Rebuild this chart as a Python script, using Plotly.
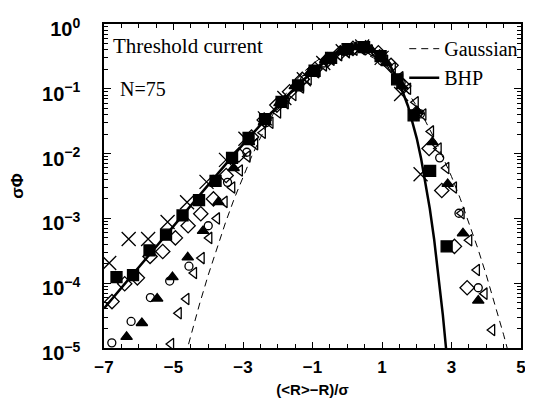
import plotly.graph_objects as go

# ---- theory curves ----
bhp_x = [-7, -6.5, -6, -5.5, -5, -4.5, -4, -3.5, -3, -2.5, -2, -1.5, -1, -0.5, 0, 0.25, 0.374,
         0.5, 0.75, 1, 1.25, 1.5, 1.75, 1.875, 2, 2.125, 2.25, 2.375, 2.5, 2.625, 2.75, 2.85, 3.0]
bhp_y = [4.08e-5, 8.52e-5, 1.778e-4, 3.706e-4, 7.716e-4, 1.601e-3, 3.314e-3, 6.818e-3, 1.389e-2,
         2.787e-2, 5.466e-2, 0.1032, 0.1833, 0.2955, 0.4080, 0.4403, 0.4449, 0.4398, 0.3984, 0.3191,
         0.2185, 0.1229, 0.05379, 0.0318, 0.01719, 8.42e-3, 3.686e-3, 1.424e-3, 4.773e-4, 1.367e-4,
         3.266e-5, 9.02e-6, 1.0e-6]

gauss_x = [-4.75, -4.5, -4.25, -4, -3.75, -3.5, -3.25, -3, -2.75, -2.5, -2.25, -2, -1.75, -1.5,
           -1.25, -1, -0.75, -0.5, -0.25, 0, 0.25, 0.5, 0.75, 1, 1.25, 1.5, 1.75, 2, 2.25, 2.5,
           2.75, 3, 3.25, 3.5, 3.75, 4, 4.25, 4.5, 4.75]
gauss_y = [5.03e-6, 1.60e-5, 4.77e-5, 1.34e-4, 3.53e-4, 8.73e-4, 2.03e-3, 4.43e-3, 9.09e-3, 0.0175,
           0.0317, 0.0540, 0.0863, 0.1295, 0.1826, 0.2420, 0.3011, 0.3521, 0.3867, 0.3989, 0.3867,
           0.3521, 0.3011, 0.2420, 0.1826, 0.1295, 0.0863, 0.0540, 0.0317, 0.0175, 9.09e-3, 4.43e-3,
           2.03e-3, 8.73e-4, 3.53e-4, 1.34e-4, 4.77e-5, 1.60e-5, 5.03e-6]

# ---- measured data series ----
cross_x = [-6.85, -6.29, -5.73, -5.17, -4.61, -4.05, -3.49, -2.93, -2.37, -1.81, -1.25, -0.69,
           -0.13, 0.43, 0.99, 1.55, 2.11]
cross_y = [2.05e-4, 4.8e-4, 4.8e-4, 8.8e-4, 1.77e-3, 3.66e-3, 8.0e-3, 1.7e-2, 3.5e-2, 7.2e-2,
           0.14, 0.25, 0.38, 0.45, 0.30, 0.083, 4.8e-3]

square_x = [-6.64, -6.165, -5.69, -5.215, -4.74, -4.265, -3.79, -3.315, -2.84, -2.365, -1.89,
            -1.415, -0.94, -0.465, 0.01, 0.485, 0.96, 1.435, 1.91, 2.385, 2.86]
square_y = [1.24e-4, 1.33e-4, 3.2e-4, 5.6e-4, 1.11e-3, 1.92e-3, 3.8e-3, 8.6e-3, 1.75e-2, 3.4e-2,
            6.3e-2, 0.113, 0.19, 0.30, 0.41, 0.44, 0.32, 0.14, 0.039, 5.4e-3, 3.7e-4]

diamond_x = [-6.77, -6.405, -6.04, -5.675, -5.31, -4.945, -4.58, -4.215, -3.85, -3.485, -3.12,
             -2.755, -2.39, -2.025, -1.66, -1.295, -0.93, -0.565, -0.2, 0.165, 0.53, 0.895, 1.26,
             1.625, 1.99, 2.355, 2.72, 3.085, 3.45]
diamond_y = [5.2e-5, 9.8e-5, 1.21e-4, 2.59e-4, 3.08e-4, 5.0e-4, 7.7e-4, 1.18e-3, 2.0e-3, 4.6e-3,
             9.5e-3, 1.8e-2, 3.3e-2, 5.6e-2, 9.0e-2, 0.14, 0.2, 0.28, 0.36, 0.42, 0.43, 0.36, 0.23,
             0.11, 0.042, 0.012, 2.7e-3, 3.7e-4, 8.5e-5]

circle_x = [-6.775, -6.22, -5.665, -5.11, -4.555, -4.0, -3.445, -2.89, -2.335, -1.78, -1.225,
            -0.67, -0.115, 0.44, 0.995, 1.55, 2.105, 2.66, 3.215, 3.77]
circle_y = [1.2e-5, 2.57e-5, 6.0e-5, 1.08e-4, 1.83e-4, 7.7e-4, 3.6e-3, 1.05e-2, 3.0e-2, 6.8e-2,
            0.14, 0.25, 0.38, 0.43, 0.27, 0.125, 0.041, 8.6e-3, 1.2e-3, 8.5e-5]

tri_x = [-6.35, -5.91, -5.47, -5.03, -4.59, -4.15, -3.71, -3.27, -2.83, -2.39, -1.95, -1.51,
         -1.07, -0.63, -0.19, 0.25, 0.69, 1.13, 1.57, 2.01, 2.45, 2.89, 3.33, 3.77]
tri_y = [1.49e-5, 2.43e-5, 5.8e-5, 1.24e-4, 2.5e-4, 6.4e-4, 1.78e-3, 6.0e-3, 1.5e-2, 3.1e-2,
         6.0e-2, 0.11, 0.18, 0.28, 0.38, 0.44, 0.40, 0.25, 0.11, 0.045, 0.015, 3.4e-3, 5.9e-4, 5.4e-5]

ltri_x = [-5.07, -4.85, -4.63, -4.41, -4.19, -3.97, -3.75, -3.53, -3.31, -3.09, -2.87, -2.65,
          -2.43, -2.21, -1.99, -1.77, -1.55, -1.33, -1.11, -0.89, -0.67, -0.45, -0.23, -0.01,
          0.21, 0.43, 0.65, 0.87, 1.09, 1.31, 1.53, 1.75, 1.97, 2.19, 2.41, 2.63, 2.85, 3.07,
          3.29, 3.51, 3.73, 3.95, 4.17]
ltri_y = [1.15e-5, 3.45e-5, 5.7e-5, 1.44e-4, 2.44e-4, 5.0e-4, 1.0e-3, 1.8e-3, 3.0e-3, 5.5e-3,
          9.0e-3, 1.4e-2, 2.1e-2, 3.0e-2, 4.3e-2, 6.0e-2, 8.0e-2, 0.105, 0.14, 0.18, 0.23, 0.28,
          0.33, 0.37, 0.40, 0.41, 0.39, 0.33, 0.27, 0.21, 0.15, 0.10, 0.062, 0.040, 0.022, 0.012,
          6.0e-3, 3.0e-3, 1.2e-3, 4.6e-4, 1.6e-4, 6.9e-5, 1.9e-5]

x_tickvals = [-7, -5, -3, -1, 1, 3, 5]
x_ticktext = ["\u22127", "\u22125", "\u22123", "\u22121", "1", "3", "5"]
y_tickvals = [1, 0.1, 0.01, 0.001, 1e-4, 1e-5]
y_ticktext = ["10<sup>0</sup>", "10<sup>\u22121</sup>", "10<sup>\u22122</sup>",
              "10<sup>\u22123</sup>", "10<sup>\u22124</sup>", "10<sup>\u22125</sup>"]

fig = go.Figure()

def add_markers(x, y, symbol, size):
    fig.add_trace(go.Scatter(
        x=x, y=y, mode="markers", showlegend=False, cliponaxis=True,
        marker=dict(symbol=symbol, size=size, color="black",
                    line=dict(color="black", width=1.3)),
    ))

add_markers(ltri_x, ltri_y, "triangle-left-open", 10)
add_markers(circle_x, circle_y, "circle-open", 8)
add_markers(diamond_x, diamond_y, "diamond-open", 11)
add_markers(tri_x, tri_y, "triangle-up", 10)
add_markers(square_x, square_y, "square", 11)
add_markers(cross_x, cross_y, "x-thin-open", 14)

fig.add_trace(go.Scatter(x=gauss_x, y=gauss_y, mode="lines", name="Gaussian",
                         line=dict(color="black", width=1, dash="7px,5px")))
fig.add_trace(go.Scatter(x=bhp_x, y=bhp_y, mode="lines", name="BHP",
                         line=dict(color="black", width=2.5)))

# page body has an 8px margin, so the figure is sized to fill the rest of the window
fig.update_layout(
    width=525, height=403,
    margin=dict(l=96, r=7, t=11, b=63),
    plot_bgcolor="white", paper_bgcolor="white",
    legend=dict(x=0.72, y=0.984, xanchor="left", yanchor="top",
                bgcolor="rgba(0,0,0,0)",
                font=dict(family="Liberation Serif", size=20, color="black"),
                tracegroupgap=0, itemwidth=30),
    annotations=[
        dict(text="Threshold current", x=0.017, y=0.933, xref="paper", yref="paper",
             xanchor="left", yanchor="middle", showarrow=False,
             font=dict(family="Liberation Serif", size=21, color="black")),
        dict(text="N=75", x=0.034, y=0.799, xref="paper", yref="paper",
             xanchor="left", yanchor="middle", showarrow=False,
             font=dict(family="Liberation Serif", size=20, color="black")),
    ],
)

fig.update_xaxes(
    range=[-7, 5], tickmode="array", tickvals=x_tickvals, ticktext=x_ticktext,
    ticklabeloverflow="allow", ticklabelstandoff=3,
    ticks="inside", ticklen=6, tickwidth=1, tickcolor="black",
    showline=True, linewidth=1.5, linecolor="black", mirror="ticks",
    showgrid=False, zeroline=False,
    minor=dict(dtick=0.5, tick0=0, ticks="inside", ticklen=4, tickcolor="black", showgrid=False),
    tickfont=dict(family="Liberation Sans", size=17, color="black", weight="bold"),
    title=dict(text="(&lt;R&gt;\u2212R)/\u03c3", standoff=8,
               font=dict(family="Liberation Sans", size=15, color="black", weight="bold")),
)
fig.update_yaxes(
    type="log", range=[-5, 0], tickmode="array", tickvals=y_tickvals, ticktext=y_ticktext,
    ticklabeloverflow="allow", ticklabelstandoff=18, ticklabelshift=5,
    ticks="inside", ticklen=7, tickwidth=1, tickcolor="black",
    showline=True, linewidth=1.5, linecolor="black", mirror="ticks",
    showgrid=False, zeroline=False,
    minor=dict(dtick="D1", ticks="inside", ticklen=4, tickcolor="black", showgrid=False),
    tickfont=dict(family="Liberation Sans", size=20, color="black", weight="bold"),
    title=dict(text="\u03c3\u03a6", standoff=14,
               font=dict(family="Liberation Sans", size=17, color="black", weight="bold")),
)

fig.write_html("out.html")
